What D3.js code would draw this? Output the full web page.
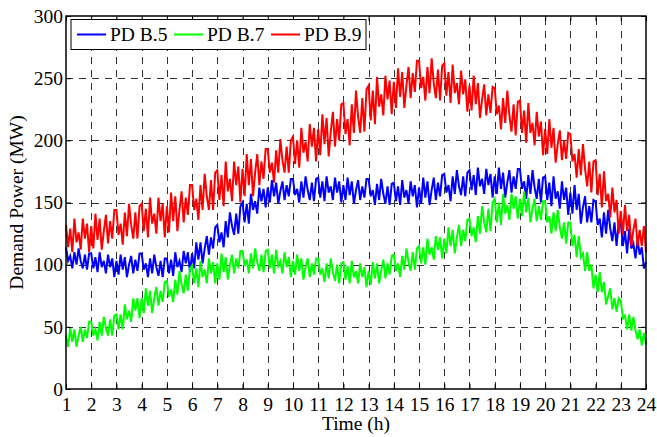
<!DOCTYPE html>
<html>
<head>
<meta charset="utf-8">
<script src="https://cdn.jsdelivr.net/npm/d3@7"></script>
<style>
  html, body { margin: 0; padding: 0; background: #fff; }
  svg { display: block; font-family: "Liberation Serif", "Times New Roman", serif; }
</style>
</head>
<body>
<script>
// samples every 5 min (12 per hour) from 1 h to 24 h, 277 points per series
const seriesNames = ["PD B.5", "PD B.7", "PD B.9"];
const seriesColors = ["#0000ff", "#00ff00", "#ff0000"];
const xTicks = d3.range(1, 25);
const yTicks = [0, 50, 100, 150, 200, 250, 300];
const samplesPerHour = 12;

const pdB5 = [
  114,103,107,97,110,100,113,103,97,108,96,109,
  109,97,106,94,110,98,103,93,108,98,105,90,
  103,92,108,96,106,90,100,107,93,104,95,109,
  109,96,101,90,105,93,108,98,91,103,90,105,
  105,93,104,91,110,98,103,94,111,101,110,94,
  109,97,118,104,118,101,113,123,108,122,113,130,
  132,118,126,114,135,122,142,131,124,141,125,147,
  150,134,149,133,157,144,151,141,162,151,161,146,
  162,150,168,155,166,149,159,167,152,164,155,169,
  169,156,161,150,167,154,171,160,152,166,151,169,
  170,154,167,151,171,158,163,152,170,158,167,150,
  164,152,170,156,167,149,160,168,152,163,154,169,
  169,155,160,148,165,152,169,157,149,163,148,165,
  166,151,163,148,168,154,160,149,167,155,164,146,
  162,149,170,154,167,148,160,170,152,166,155,172,
  173,158,164,151,171,157,176,163,156,171,155,174,
  176,160,172,156,178,163,169,157,177,164,173,154,
  171,157,178,161,174,154,166,176,158,171,161,177,
  177,161,167,153,172,157,176,162,153,169,150,170,
  171,152,166,147,171,153,159,145,167,152,162,140,
  158,141,164,144,157,133,146,155,134,147,134,152,
  151,132,137,122,142,125,144,129,119,134,115,134,
  134,115,127,109,129,113,117,105,120,108,114,97,
  102
];

const pdB7 = [
  43,34,49,38,48,34,43,50,38,48,41,54,
  54,43,48,39,54,43,58,49,43,56,43,59,
  60,48,60,48,68,56,63,54,73,63,73,57,
  73,61,81,67,79,61,73,82,67,79,70,86,
  87,74,80,70,88,76,95,84,77,92,79,97,
  99,85,97,82,103,90,96,85,105,93,102,85,
  101,88,109,94,106,88,100,108,93,105,97,111,
  111,99,104,93,109,97,113,102,95,108,94,111,
  112,97,108,93,112,99,103,93,110,98,106,90,
  103,92,108,95,105,88,98,105,90,101,92,105,
  105,92,97,86,101,89,105,94,87,100,85,101,
  102,88,99,85,103,90,95,85,101,90,98,82,
  95,84,102,89,101,85,95,104,89,101,92,107,
  108,95,101,90,107,96,113,102,95,110,96,113,
  115,101,114,100,121,108,114,104,123,112,122,105,
  121,109,130,115,128,109,122,132,115,128,119,136,
  137,123,130,118,139,125,147,134,126,145,127,150,
  153,134,150,132,157,141,148,136,157,145,155,137,
  153,139,159,142,154,134,145,153,135,147,136,151,
  151,134,139,125,142,127,144,130,121,134,117,134,
  134,115,124,106,123,106,109,95,110,95,100,81,
  92,78,94,78,86,68,75,81,64,73,62,73,
  71,57,59,48,60,47,58,47,40,48,35,45,
  36
];

const pdB9 = [
  132,114,129,110,137,118,126,112,137,121,133,110,
  131,113,141,120,137,112,127,140,117,135,121,144,
  144,124,133,116,142,123,149,132,121,142,121,147,
  149,127,145,122,154,133,141,125,154,135,149,122,
  147,126,158,135,155,127,144,159,134,154,140,164,
  164,144,153,136,164,144,173,155,144,168,144,174,
  176,152,172,147,183,159,169,151,183,164,179,150,
  177,155,189,164,185,155,174,189,164,183,169,193,
  193,174,182,166,192,174,201,184,174,195,174,200,
  203,181,200,178,210,190,199,183,213,195,210,183,
  209,188,221,197,218,187,207,223,195,217,200,229,
  230,205,217,196,229,206,240,219,206,234,207,241,
  244,216,240,213,251,227,237,220,252,233,248,221,
  247,226,258,235,255,226,244,259,234,254,239,264,
  264,242,251,232,259,238,266,246,234,257,232,260,
  262,236,255,230,261,238,246,229,256,237,249,223,
  244,224,252,229,246,218,233,245,220,237,222,243,
  242,221,228,209,234,214,240,220,207,229,204,231,
  232,206,224,198,230,206,214,196,223,203,215,188,
  209,189,217,194,210,182,197,208,184,200,185,206,
  205,183,189,170,193,172,197,177,163,183,158,183,
  184,156,173,146,175,151,157,138,162,142,152,125,
  143,124,148,127,140,115,128,137,115,128,115,131,
  110
];

const allSeries = [pdB5, pdB7, pdB9];

const width = 657, height = 437;
const margin = { left: 66, right: 11, top: 16, bottom: 48 };

const x = d3.scaleLinear().domain([1, 24]).range([margin.left, width - margin.right]);
const y = d3.scaleLinear().domain([0, 300]).range([height - margin.bottom, margin.top]);

const svg = d3.select("body").append("svg")
  .attr("width", width)
  .attr("height", height);

const x0 = margin.left, x1 = width - margin.right;
const y0 = height - margin.bottom, y1 = margin.top;

// dashed grid
const grid = svg.append("g").attr("stroke", "#333").attr("stroke-width", 1).attr("stroke-dasharray", "7,6");
grid.selectAll(".gx").data(xTicks.slice(1, -1)).join("line")
  .attr("x1", d => Math.round(x(d)) + 0.5).attr("x2", d => Math.round(x(d)) + 0.5)
  .attr("y1", y0).attr("y2", y1);
grid.selectAll(".gy").data(yTicks.slice(1, -1)).join("line")
  .attr("y1", d => Math.round(y(d)) + 0.5).attr("y2", d => Math.round(y(d)) + 0.5)
  .attr("x1", x0).attr("x2", x1);

// lines
const line = d3.line()
  .x((d, i) => x(1 + i / samplesPerHour))
  .y(d => y(d));

svg.append("g").selectAll("path").data(allSeries).join("path")
  .attr("d", line)
  .attr("fill", "none")
  .attr("stroke", (d, i) => seriesColors[i])
  .attr("stroke-width", 2)
  .attr("stroke-linejoin", "miter");

// axes with inward ticks
const fontSize = 19.5;
svg.append("g").attr("transform", `translate(0,${y0})`)
  .call(d3.axisBottom(x).tickValues(xTicks).tickFormat(d3.format("d")).tickSizeInner(-5).tickSizeOuter(0).tickPadding(8));
svg.append("g").attr("transform", `translate(${x0},0)`)
  .call(d3.axisLeft(y).tickValues(yTicks).tickSizeInner(-5).tickSizeOuter(0).tickPadding(3));
svg.append("g").attr("transform", `translate(0,${y1})`)
  .call(d3.axisTop(x).tickValues(xTicks).tickFormat("").tickSizeInner(-5).tickSizeOuter(0));
svg.append("g").attr("transform", `translate(${x1},0)`)
  .call(d3.axisRight(y).tickValues(yTicks).tickFormat("").tickSizeInner(-5).tickSizeOuter(0));

svg.selectAll(".domain").remove();
svg.selectAll(".tick line").attr("stroke", "#000");
svg.selectAll(".tick text")
  .attr("font-family", "'Liberation Serif', 'Times New Roman', serif")
  .attr("font-size", fontSize)
  .attr("fill", "#000");

// frame
svg.append("rect")
  .attr("x", x0).attr("y", y1)
  .attr("width", x1 - x0).attr("height", y0 - y1)
  .attr("fill", "none").attr("stroke", "#000").attr("stroke-width", 1.5);

// axis titles
svg.append("text")
  .attr("x", (x0 + x1) / 2).attr("y", 430)
  .attr("text-anchor", "middle")
  .attr("font-size", fontSize)
  .text("Time (h)");

svg.append("text")
  .attr("transform", `translate(23,${(y0 + y1) / 2}) rotate(-90)`)
  .attr("text-anchor", "middle")
  .attr("font-size", fontSize)
  .text("Demand Power (MW)");

// legend
const legend = svg.append("g");
legend.append("rect")
  .attr("x", 71).attr("y", 19.5)
  .attr("width", 295).attr("height", 30)
  .attr("fill", "#fff").attr("stroke", "#000").attr("stroke-width", 1);
const legendX = [77, 174, 271];
seriesNames.forEach((name, i) => {
  legend.append("line")
    .attr("x1", legendX[i]).attr("x2", legendX[i] + 29)
    .attr("y1", 34.5).attr("y2", 34.5)
    .attr("stroke", seriesColors[i]).attr("stroke-width", 2);
  legend.append("text")
    .attr("x", legendX[i] + 33).attr("y", 41)
    .attr("font-size", fontSize)
    .text(name);
});
</script>
</body>
</html>
